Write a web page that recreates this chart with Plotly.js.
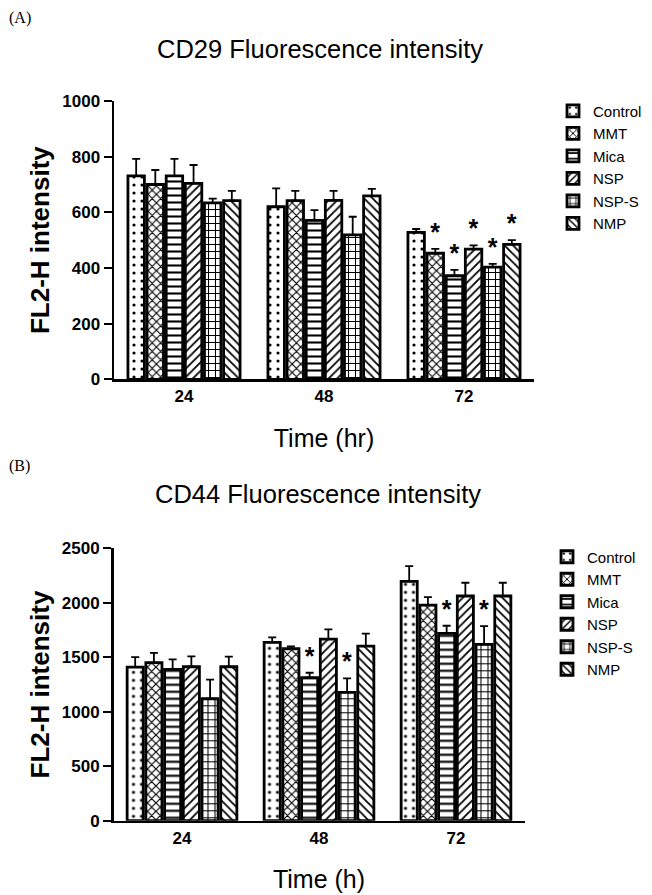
<!DOCTYPE html>
<html>
<head>
<meta charset="utf-8">
<script src="https://cdn.plot.ly/plotly-3.0.1.min.js"></script>
<style>html,body{margin:0;padding:0;background:#fff;}#chart{width:652px;height:895px;}</style>
</head>
<body>
<div id="chart"></div>
<script>
// ---- data ----
var timesA = ['24', '48', '72'];
var timesB = ['24', '48', '72'];
var seriesNames = ['Control', 'MMT', 'Mica', 'NSP', 'NSP-S', 'NMP'];

// Panel A: CD29
var cd29Control = [731, 620, 528];
var cd29MMT     = [700, 642, 453];
var cd29Mica    = [731, 571, 372];
var cd29NSP     = [704, 643, 468];
var cd29NSPS    = [634, 519, 403];
var cd29NMP     = [642, 659, 485];
var cd29ControlErr = [61, 66, 12];
var cd29MMTErr     = [52, 35, 16];
var cd29MicaErr    = [61, 37, 21];
var cd29NSPErr     = [66, 34, 13];
var cd29NSPSErr    = [15, 65, 12];
var cd29NMPErr     = [35, 25, 15];
var cd29ControlSig = [false, false, false];
var cd29MMTSig     = [false, false, true];
var cd29MicaSig    = [false, false, true];
var cd29NSPSig     = [false, false, true];
var cd29NSPSSig    = [false, false, true];
var cd29NMPSig     = [false, false, true];

// Panel B: CD44
var cd44Control = [1410, 1637, 2196];
var cd44MMT     = [1450, 1578, 1979];
var cd44Mica    = [1389, 1312, 1719];
var cd44NSP     = [1413, 1667, 2062];
var cd44NSPS    = [1119, 1178, 1618];
var cd44NMP     = [1413, 1603, 2062];
var cd44ControlErr = [92, 46, 141];
var cd44MMTErr     = [91, 22, 73];
var cd44MicaErr    = [92, 46, 70];
var cd44NSPErr     = [95, 89, 122];
var cd44NSPSErr    = [175, 128, 168];
var cd44NMPErr     = [92, 113, 122];
var cd44ControlSig = [false, false, false];
var cd44MMTSig     = [false, false, false];
var cd44MicaSig    = [false, true, true];
var cd44NSPSig     = [false, false, false];
var cd44NSPSSig    = [false, true, true];
var cd44NMPSig     = [false, false, false];

var yTicksA = [0, 200, 400, 600, 800, 1000];
var yTicksB = [0, 500, 1000, 1500, 2000, 2500];

// ---- styling ----
var FONT = 'Liberation Sans, Arial, Helvetica, sans-serif';
var patterns = [
  {shape: '.', size: 8, solidity: 0.12},
  {shape: 'x', size: 6, solidity: 0.35},
  {shape: '-', size: 7, solidity: 0.3},
  {shape: '/', size: 6, solidity: 0.3},
  {shape: '+', size: 7, solidity: 0.28},
  {shape: '\\', size: 6, solidity: 0.3}
];

function buildPanel(cats, vals, errs, sigs, xa, ya, legendId, traces) {
  for (var i = 0; i < vals.length; i++) {
    var p = patterns[i];
    traces.push({
      type: 'bar', name: seriesNames[i], x: cats, y: vals[i],
      xaxis: xa, yaxis: ya, legend: legendId,
      offsetgroup: 'g' + i,
      marker: {
        color: 'white',
        line: {color: 'black', width: 2.8},
        pattern: {shape: p.shape, size: p.size, solidity: p.solidity, fgcolor: 'black', bgcolor: 'white', fillmode: 'replace'}
      },
      error_y: {type: 'data', array: errs[i], arrayminus: errs[i].map(function(){return 0;}), symmetric: false,
                color: 'black', thickness: 1.8, width: 4},
      hoverinfo: 'x+y+name'
    });
  }
  for (var j = 0; j < vals.length; j++) {
    var ys = [], txt = [];
    for (var k = 0; k < cats.length; k++) {
      if (sigs[j][k]) { ys.push(vals[j][k] + errs[j][k]); txt.push('*'); }
      else { ys.push(null); txt.push(''); }
    }
    traces.push({
      type: 'bar', x: cats, y: ys, text: txt, xaxis: xa, yaxis: ya,
      offsetgroup: 'g' + j, showlegend: false, hoverinfo: 'skip',
      marker: {color: 'rgba(0,0,0,0)', line: {width: 0}},
      textposition: 'outside', cliponaxis: false,
      textfont: {family: FONT, size: 25, color: 'black', weight: 'bold'}
    });
  }
}

var traces = [];
buildPanel(timesA,
  [cd29Control, cd29MMT, cd29Mica, cd29NSP, cd29NSPS, cd29NMP],
  [cd29ControlErr, cd29MMTErr, cd29MicaErr, cd29NSPErr, cd29NSPSErr, cd29NMPErr],
  [cd29ControlSig, cd29MMTSig, cd29MicaSig, cd29NSPSig, cd29NSPSSig, cd29NMPSig],
  'x', 'y', 'legend', traces);
buildPanel(timesB,
  [cd44Control, cd44MMT, cd44Mica, cd44NSP, cd44NSPS, cd44NMP],
  [cd44ControlErr, cd44MMTErr, cd44MicaErr, cd44NSPErr, cd44NSPSErr, cd44NMPErr],
  [cd44ControlSig, cd44MMTSig, cd44MicaSig, cd44NSPSig, cd44NSPSSig, cd44NMPSig],
  'x2', 'y2', 'legend2', traces);

function px(v) { return v / 652; }
function py(v) { return 1 - v / 895; }

var xCommon = {
  type: 'category', range: [-0.5, 2.5], showline: true, linewidth: 2.5, linecolor: 'black',
  ticks: '', showgrid: false, zeroline: false, fixedrange: true,
  tickfont: {family: FONT, size: 17, color: 'black', weight: 'bold'}
};
function yCommon(rng, tv) {
  return {
    range: rng, tickvals: tv, showline: true, linewidth: 2.5, linecolor: 'black',
    ticks: 'outside', ticklen: 8, tickwidth: 2, tickcolor: 'black',
    showgrid: false, zeroline: false, fixedrange: true,
    tickfont: {family: FONT, size: 17, color: 'black', weight: 'bold'}
  };
}

var layout = {
  width: 652, height: 895,
  margin: {l: 0, r: 0, t: 0, b: 0},
  paper_bgcolor: 'white', plot_bgcolor: 'white',
  font: {family: FONT, color: 'black'},
  barmode: 'group', bargap: 0.18, bargroupgap: 0.14,
  xaxis: Object.assign({}, xCommon, {domain: [px(114), px(534)], anchor: 'y',
    title: {text: 'Time (hr)', font: {family: FONT, size: 25, color: 'black'}, standoff: 25}}),
  yaxis: Object.assign(yCommon([0, 1000], yTicksA), {domain: [py(379.3), py(101)], anchor: 'x',
    title: {text: 'FL2-H intensity', font: {family: FONT, size: 26, color: 'black', weight: 'bold'}, standoff: 5}}),
  xaxis2: Object.assign({}, xCommon, {domain: [px(113.5), px(524.5)], anchor: 'y2',
    title: {text: 'Time (h)', font: {family: FONT, size: 25, color: 'black'}, standoff: 24}}),
  yaxis2: Object.assign(yCommon([0, 2500], yTicksB), {domain: [py(820.7), py(548.3)], anchor: 'x2',
    title: {text: 'FL2-H intensity', font: {family: FONT, size: 26, color: 'black', weight: 'bold'}, standoff: 5}}),
  legend: {x: px(553), y: py(94.6), xanchor: 'left', yanchor: 'top', bgcolor: 'rgba(0,0,0,0)',
    font: {family: FONT, size: 15, color: 'black'}, itemwidth: 30, traceorder: 'normal'},
  legend2: {x: px(547), y: py(540.5), xanchor: 'left', yanchor: 'top', bgcolor: 'rgba(0,0,0,0)',
    font: {family: FONT, size: 15, color: 'black'}, itemwidth: 30, traceorder: 'normal'},
  annotations: [
    {text: '(A)', xref: 'paper', yref: 'paper', x: px(7), y: py(18), xanchor: 'left', yanchor: 'middle',
     showarrow: false, font: {family: 'Liberation Serif, Times New Roman, serif', size: 16, color: 'black'}},
    {text: '(B)', xref: 'paper', yref: 'paper', x: px(7), y: py(466), xanchor: 'left', yanchor: 'middle',
     showarrow: false, font: {family: 'Liberation Serif, Times New Roman, serif', size: 16, color: 'black'}},
    {text: 'CD29 Fluorescence intensity', xref: 'paper', yref: 'paper', x: px(320), y: py(49), xanchor: 'center', yanchor: 'middle',
     showarrow: false, font: {family: FONT, size: 25.5, color: 'black'}},
    {text: 'CD44 Fluorescence intensity', xref: 'paper', yref: 'paper', x: px(318), y: py(494), xanchor: 'center', yanchor: 'middle',
     showarrow: false, font: {family: FONT, size: 25.5, color: 'black'}}
  ],
  showlegend: true
};

Plotly.newPlot('chart', traces, layout, {displayModeBar: false, staticPlot: true});
</script>
</body>
</html>
